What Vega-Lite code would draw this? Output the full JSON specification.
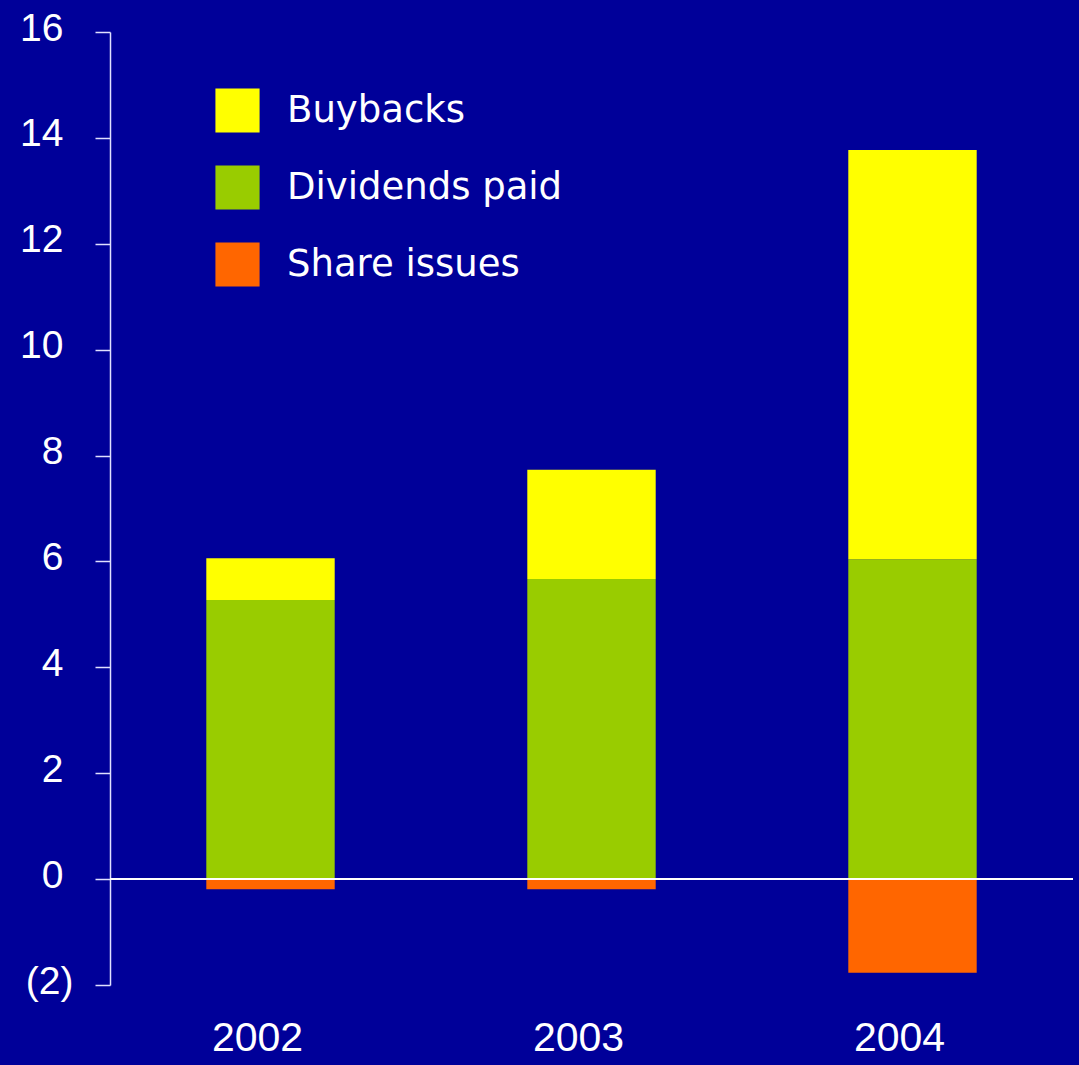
{
  "$schema": "https://vega.github.io/schema/vega-lite/v6.json",
  "width": 963,
  "height": 953,
  "autosize": {"type": "none"},
  "padding": {"left": 110, "top": 32, "right": 6, "bottom": 80},
  "background": "#000099",
  "config": {
    "view": {"stroke": null},
    "font": "Liberation Sans"
  },
  "data": {
    "values": [
      {"year": "2002", "type": "Dividends paid", "value": 5.27, "ord": 1},
      {"year": "2002", "type": "Buybacks", "value": 0.79, "ord": 2},
      {"year": "2002", "type": "Share issues", "value": -0.19, "ord": 3},
      {"year": "2003", "type": "Dividends paid", "value": 5.67, "ord": 1},
      {"year": "2003", "type": "Buybacks", "value": 2.06, "ord": 2},
      {"year": "2003", "type": "Share issues", "value": -0.19, "ord": 3},
      {"year": "2004", "type": "Dividends paid", "value": 6.04, "ord": 1},
      {"year": "2004", "type": "Buybacks", "value": 7.73, "ord": 2},
      {"year": "2004", "type": "Share issues", "value": -1.77, "ord": 3}
    ]
  },
  "layer": [
    {
      "mark": {"type": "bar"},
      "encoding": {
        "x": {
          "field": "year", "type": "nominal",
          "scale": {"paddingInner": 0.6, "paddingOuter": 0.3},
          "axis": {
            "title": null, "domain": false, "ticks": false, "labelAngle": 0,
            "labelFontSize": 41, "labelColor": "#ffffff", "labelPadding": 33,
            "labelOffset": -13,
            "labelFont": "Liberation Sans"
          }
        },
        "y": {
          "field": "value", "type": "quantitative", "stack": "zero",
          "scale": {"domain": [-2, 16], "nice": false},
          "axis": {
            "title": null, "values": [-2, 0, 2, 4, 6, 8, 10, 12, 14, 16],
            "labelExpr": "datum.value < 0 ? '(' + abs(datum.value) + ')' : datum.value",
            "grid": false, "domainColor": "#e0e0ff", "domainWidth": 1.5,
            "tickColor": "#e0e0ff", "tickSize": 15, "tickWidth": 1.5,
            "labelFontSize": 39, "labelColor": "#ffffff",
            "labelPadding": {"condition": {"test": "datum.value < 0", "value": 22}, "value": 32},
            "labelOffset": -4,
            "labelFont": "Liberation Sans"
          }
        },
        "color": {
          "field": "type", "type": "nominal",
          "scale": {
            "domain": ["Buybacks", "Dividends paid", "Share issues"],
            "range": ["#ffff00", "#99cc00", "#ff6600"]
          },
          "legend": {
            "title": null, "orient": "none", "legendX": 105, "legendY": 56,
            "symbolType": "square", "symbolSize": 1950, "symbolStrokeWidth": 0,
            "symbolOpacity": 1, "labelFontSize": 37, "labelColor": "#ffffff",
            "labelOffset": 27, "rowPadding": 32, "padding": 0, "labelLimit": 0,
            "labelFont": "DejaVu Sans"
          }
        },
        "order": {"field": "ord", "type": "quantitative"}
      }
    },
    {
      "mark": {"type": "rule", "color": "#ffffff", "strokeWidth": 1.2},
      "encoding": {"y": {"datum": 0}}
    }
  ]
}
